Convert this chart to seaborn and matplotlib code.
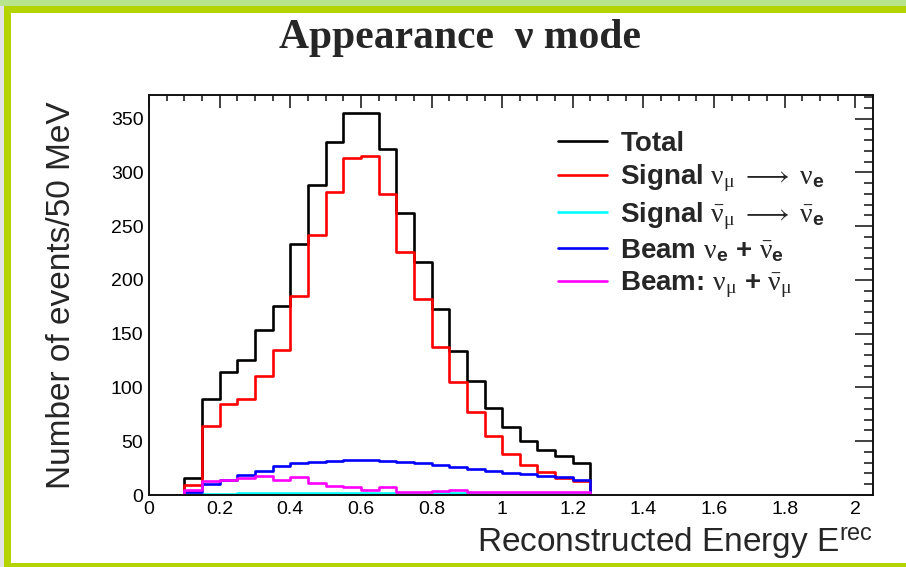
import numpy as np
import pandas as pd
import matplotlib
matplotlib.use("Agg")
import matplotlib.pyplot as plt
from matplotlib.patches import Rectangle
from matplotlib.ticker import MultipleLocator, FuncFormatter
import seaborn as sns

# Reconstructed-energy binning: 50 MeV bins from 0 to 2.05 GeV
bin_width = 0.05
edges = [round(i * bin_width, 3) for i in range(42)]
centers = np.array(edges[:-1]) + bin_width / 2

# Event counts per bin for the populated range 0.10 - 1.25 GeV
first_bin = 2  # bins below 0.10 GeV are empty
total = [16, 89, 114, 126, 153, 176, 233, 288, 328, 355, 355, 322, 262,
         217, 173, 134, 106, 81, 63, 50, 42, 36, 30]
signal_nue = [9, 64, 85, 89, 111, 135, 185, 242, 282, 313, 315, 280, 226,
              182, 138, 105, 77, 55, 38, 28, 21, 16, 13]
signal_nuebar = [0.5, 1.0, 1.2, 1.4, 1.6, 1.8, 1.9, 2.0, 2.0, 2.0, 2.0, 1.9,
                 1.8, 1.7, 1.6, 1.5, 1.4, 1.3, 1.2, 1.1, 1.0, 0.9, 0.8]
beam_nue = [3, 10, 14, 19, 22.5, 27, 29.5, 31, 32, 32.5, 32.3, 31.5, 30.5,
            29.5, 28, 26.5, 24, 22, 20.5, 19.5, 18, 16.5, 14]
beam_numu = [5, 13, 14, 15.5, 17.5, 14, 17, 11.5, 8, 7.5, 5, 7.5, 2.5,
             3, 4, 4.5, 2.5, 2.5, 2.5, 2.5, 2.5, 2.5, 2.5]

labels = [
    "Total",
    r"Signal $\mathrm{\nu_{\mu}\ \longrightarrow\ \nu}_{\mathbf{e}}$",
    r"Signal $\mathrm{\bar{\nu}_{\mu}\ \longrightarrow\ \bar{\nu}}_{\mathbf{e}}$",
    r"Beam $\mathrm{\nu}_{\mathbf{e}}$ + $\mathrm{\bar{\nu}}_{\mathbf{e}}$",
    r"Beam: $\mathrm{\nu_{\mu}}$ + $\mathrm{\bar{\nu}_{\mu}}$",
]
colors = ["#000000", "#ff0000", "#00ffff", "#0000ff", "#ff00ff"]
series = [total, signal_nue, signal_nuebar, beam_nue, beam_numu]


def full_hist(vals):
    out = np.zeros(len(centers))
    out[first_bin:first_bin + len(vals)] = vals
    return out


sns.set_style("white")
plt.rcParams["font.family"] = ["Liberation Sans", "DejaVu Sans"]
plt.rcParams["mathtext.fontset"] = "custom"
plt.rcParams["mathtext.rm"] = "Liberation Serif"
plt.rcParams["mathtext.it"] = "Liberation Serif:italic"
plt.rcParams["mathtext.bf"] = "Liberation Sans:bold"
plt.rcParams["mathtext.sf"] = "Liberation Sans"
plt.rcParams["mathtext.fallback"] = "stix"

fig = plt.figure(figsize=(9.06, 5.67), dpi=100)
fig.patch.set_facecolor("white")

# Canvas border
fig.add_artist(Rectangle((0, 1 - 6 / 567), 1, 6 / 567, transform=fig.transFigure,
                         facecolor="#b9e48e", edgecolor="none", zorder=0))
fig.add_artist(Rectangle((0, 1 - 13 / 567), 1, 7 / 567, transform=fig.transFigure,
                         facecolor="#b4d400", edgecolor="none", zorder=0))
fig.add_artist(Rectangle((0, 0), 4 / 906, 1 - 6 / 567, transform=fig.transFigure,
                         facecolor="#e4e4e4", edgecolor="none", zorder=0))
fig.add_artist(Rectangle((4 / 906, 0), 7 / 906, 1 - 6 / 567, transform=fig.transFigure,
                         facecolor="#b4d400", edgecolor="none", zorder=0))
fig.add_artist(Rectangle((4 / 906, 0), 1, 4 / 567, transform=fig.transFigure,
                         facecolor="#b4d400", edgecolor="none", zorder=0))

ax = fig.add_axes([149 / 906, 72 / 567, 724 / 906, 400 / 567])
ax.set_facecolor("white")

for vals, lab, col in zip(series, labels, colors):
    df = pd.DataFrame({"energy": centers, "events": full_hist(vals)})
    sns.histplot(data=df, x="energy", weights="events", bins=edges,
                 element="step", fill=False, color=col, linewidth=1.9,
                 label=lab, ax=ax)

ax.set_xlim(0, 2.05)
ax.set_ylim(0, 372)
ax.set_xlabel("")
ax.set_ylabel("")

ax.xaxis.set_major_locator(MultipleLocator(0.2))
ax.xaxis.set_minor_locator(MultipleLocator(0.05))
ax.yaxis.set_major_locator(MultipleLocator(50))
ax.yaxis.set_minor_locator(MultipleLocator(10))
ax.xaxis.set_major_formatter(FuncFormatter(
    lambda v, p: ("%.1f" % v).rstrip("0").rstrip(".") if abs(v) > 1e-9 else "0"))

ax.tick_params(which="both", direction="in", top=True, right=True,
               colors="#333333", labelcolor="black", labelsize=14, width=1.3)
ax.tick_params(axis="x", which="major", length=9, pad=4)
ax.tick_params(axis="x", which="minor", length=4.5)
ax.tick_params(axis="y", which="major", length=13, pad=4)
ax.tick_params(axis="y", which="minor", length=6.5)
for sp in ax.spines.values():
    sp.set_color("#111111")
    sp.set_linewidth(1.4)
    sp.set_visible(True)

leg = ax.legend(loc="upper left", bbox_to_anchor=(558 / 906, 1 - 131 / 567),
                bbox_transform=fig.transFigure, frameon=False,
                prop={"family": "Liberation Sans", "weight": "bold", "size": 20},
                handlelength=1.75, handletextpad=0.5, labelspacing=0.2,
                borderpad=0, borderaxespad=0)

fig.text(460 / 906, 1 - 48 / 567, "Appearance  ν mode", ha="center",
         va="baseline", fontsize=30, fontweight="bold",
         family=["Liberation Serif", "DejaVu Serif"])
fig.text(873 / 906, 15 / 567, r"Reconstructed Energy E$^{\mathregular{rec}}$",
         ha="right", va="baseline", fontsize=24)
fig.text(62 / 906, 1 - 295 / 567, "Number of events/50 MeV", rotation=90,
         ha="center", va="center", fontsize=24)

fig.savefig("out.png", dpi=100)
